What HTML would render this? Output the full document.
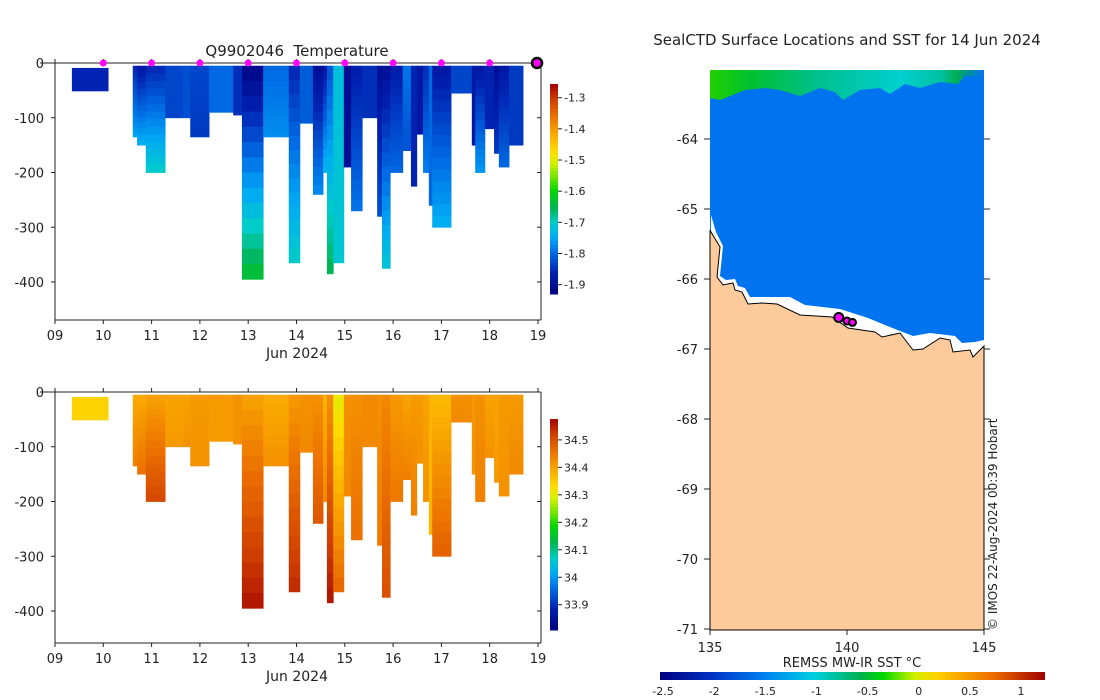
<!DOCTYPE html>
<html><head><meta charset="utf-8"><style>
body{margin:0;background:#fff;}
svg{display:block;font-family:"DejaVu Sans","Liberation Sans",sans-serif;}
text{fill:#222;}
</style></head><body>
<svg id="chart" width="1100" height="700" viewBox="0 0 1100 700" xmlns="http://www.w3.org/2000/svg">
<defs>
<linearGradient id="sstGrad" x1="0" x2="1" y1="0" y2="0">
<stop offset="0" stop-color="#00007f"/><stop offset="0.13" stop-color="#0030c0"/><stop offset="0.27" stop-color="#0080f0"/><stop offset="0.4" stop-color="#00d0e0"/><stop offset="0.52" stop-color="#00b050"/><stop offset="0.58" stop-color="#00d800"/><stop offset="0.66" stop-color="#d0f000"/><stop offset="0.72" stop-color="#ffd000"/><stop offset="0.86" stop-color="#f07000"/><stop offset="1" stop-color="#a00000"/>
</linearGradient>
<linearGradient id="greenBand" x1="0" x2="1" y1="0" y2="0">
<stop offset="0" stop-color="#20d000"/><stop offset="0.15" stop-color="#00c030"/><stop offset="0.4" stop-color="#00c090"/><stop offset="0.7" stop-color="#00d0d0"/><stop offset="0.85" stop-color="#00c0a0"/><stop offset="0.9" stop-color="#00b050"/><stop offset="1" stop-color="#0074ee"/>
</linearGradient>
</defs>
<g id="top"></g>
<g id="bot"></g>
<g id="map"></g>
</svg>
<script>
// Profile data
const startDay=[9.35,10.61,10.70,10.88,11.28,11.65,11.80,12.19,12.69,12.87,13.31,13.84,14.07,14.34,14.55,14.63,14.76,14.98,15.13,15.36,15.67,15.77,15.94,16.20,16.37,16.49,16.62,16.74,16.81,17.20,17.63,17.70,17.90,18.09,18.19,18.40];
const endDay=[10.10,10.70,10.88,11.28,11.65,11.80,12.19,12.69,12.87,13.31,13.84,14.07,14.34,14.55,14.63,14.76,14.98,15.13,15.36,15.67,15.77,15.94,16.20,16.37,16.49,16.62,16.74,16.81,17.20,17.63,17.70,17.90,18.09,18.19,18.40,18.69];
const topDepth=[9,5,5,5,5,5,5,5,5,5,5,5,5,5,5,5,5,5,5,5,5,5,5,5,5,5,5,5,5,5,5,5,5,5,5,5];
const maxDepth=[51,135,150,200,100,100,135,90,95,395,135,365,110,240,200,385,365,190,270,100,280,375,200,160,225,130,200,260,300,55,150,200,120,165,190,150];
const tempTop=[-1.86,-1.86,-1.88,-1.86,-1.83,-1.82,-1.83,-1.80,-1.85,-1.92,-1.80,-1.86,-1.81,-1.90,-1.88,-1.82,-1.72,-1.90,-1.87,-1.85,-1.90,-1.90,-1.87,-1.79,-1.86,-1.88,-1.85,-1.80,-1.88,-1.83,-1.88,-1.88,-1.86,-1.90,-1.88,-1.84];
const tempBot=[-1.86,-1.75,-1.74,-1.70,-1.83,-1.82,-1.84,-1.80,-1.85,-1.63,-1.77,-1.70,-1.81,-1.77,-1.73,-1.65,-1.71,-1.90,-1.79,-1.85,-1.82,-1.71,-1.80,-1.82,-1.86,-1.88,-1.78,-1.80,-1.74,-1.83,-1.88,-1.76,-1.86,-1.84,-1.80,-1.84];
const salTop=[34.34,34.39,34.39,34.40,34.40,34.40,34.41,34.41,34.42,34.40,34.39,34.41,34.42,34.42,34.38,34.42,34.30,34.42,34.42,34.43,34.42,34.43,34.41,34.40,34.41,34.41,34.40,34.38,34.37,34.42,34.41,34.42,34.40,34.40,34.41,34.41];
const salBot=[34.34,34.44,34.46,34.51,34.41,34.42,34.42,34.41,34.42,34.56,34.42,34.54,34.43,34.49,34.43,34.56,34.47,34.43,34.46,34.43,34.45,34.50,34.45,34.44,34.44,34.42,34.42,34.38,34.48,34.43,34.42,34.44,34.42,34.41,34.42,34.43];
const dayTicks=["09","10","11","12","13","14","15","16","17","18","19"];
const depthTicks=[0,-100,-200,-300,-400];
const tempCbTicks=[-1.3,-1.4,-1.5,-1.6,-1.7,-1.8,-1.9];
const salCbTicks=[34.5,34.4,34.3,34.2,34.1,34,33.9];
const markerDays=[10,11,12,13,14,15,16,17,18];
const sstTicks=[-2.5,-2,-1.5,-1,-0.5,0,0.5,1];
const lonTicks=[135,140,145];
const latTicks=[-64,-65,-66,-67,-68,-69,-70,-71];
const castLon=[139.7,140.0,140.2];
const castLat=[-66.55,-66.6,-66.62];

const NS="http://www.w3.org/2000/svg";
function el(p,t,a,txt){const e=document.createElementNS(NS,t);for(const k in a)e.setAttribute(k,a[k]);if(txt!==undefined)e.textContent=txt;p.appendChild(e);return e;}
const stops=[[0,[0,0,127]],[0.1,[0,32,176]],[0.2,[0,110,230]],[0.27,[0,170,245]],[0.34,[0,205,200]],[0.41,[0,180,80]],[0.49,[0,215,0]],[0.56,[120,230,0]],[0.63,[220,240,0]],[0.68,[255,220,0]],[0.76,[250,170,0]],[0.85,[235,110,0]],[0.93,[205,60,0]],[1,[160,0,0]]];
function cmap(f){f=Math.max(0,Math.min(1,f));for(let i=1;i<stops.length;i++){if(f<=stops[i][0]){const a=stops[i-1],b=stops[i];const t=(f-a[0])/(b[0]-a[0]);const c=a[1].map((v,j)=>Math.round(v+(b[1][j]-v)*t));return 'rgb('+c.join(',')+')';}}return 'rgb(160,0,0)';}
const xS=d=>55+(d-9)*48.3;

function panel(g,y0,yBot,vTop,vBot,vmin,vmax,cbTop,cbBot,cbTicks,kind){
  const yS=d=>y0+d*0.5475;
  for(let i=0;i<startDay.length;i++){
    const x1=xS(startDay[i]),x2=xS(endDay[i]);const n=14;
    const col=el(g,'g',{});
    
    
    for(let k=0;k<n;k++){
      const d1=topDepth[i]+(maxDepth[i]-topDepth[i])*k/n,d2=topDepth[i]+(maxDepth[i]-topDepth[i])*(k+1)/n;
      const v=vTop[i]+(vBot[i]-vTop[i])*(k+0.5)/n;
      el(col,'rect',{x:x1,y:yS(d1),width:x2-x1+0.4,height:yS(d2)-yS(d1)+0.4,fill:cmap((v-vmin)/(vmax-vmin))});
    }
  }
  const ax=el(g,'g',{stroke:'#222','stroke-width':1,fill:'none'});
  
  
  el(ax,'line',{x1:40,x2:541,y1:y0,y2:y0});
  el(ax,'line',{x1:55,x2:55,y1:y0,y2:yBot});
  el(ax,'line',{x1:541,x2:541,y1:y0,y2:yBot});
  el(ax,'line',{x1:55,x2:541,y1:yBot,y2:yBot});
  depthTicks.forEach(t=>{const y=yS(-t);el(ax,'line',{x1:51,x2:55,y1:y,y2:y});el(ax,'line',{x1:541,x2:537,y1:y,y2:y});
    const tx=el(g,'text',{x:44,y:y+5,'text-anchor':'end','font-size':13},String(t));
    
    });
  dayTicks.forEach((t,i)=>{const x=xS(9+i);el(ax,'line',{x1:x,x2:x,y1:y0,y2:y0-4});el(ax,'line',{x1:x,x2:x,y1:yBot,y2:yBot+4});
    const tx=el(g,'text',{x:x,y:yBot+20,'text-anchor':'middle','font-size':13},t);
    
    });
  const xl=el(g,'text',{x:297,y:yBot+38,'text-anchor':'middle','font-size':14},'Jun 2024');
  
  
  const cb=el(g,'g',{});
  
  
  const n=60;for(let k=0;k<n;k++){el(cb,'rect',{x:550,y:cbTop+(cbBot-cbTop)*k/n,width:8,height:(cbBot-cbTop)/n+0.5,fill:cmap(1-(k+0.5)/n)});}
  const per=(cbBot-cbTop)/(vmax-vmin);
  cbTicks.forEach(t=>{const y=cbTop+(vmax-t)*per;el(cb,'line',{x1:558,x2:562,y1:y,y2:y,stroke:'#222'});
    const tx=el(cb,'text',{x:564,y:y+4,'font-size':11},String(t));
    
    });
}
const topG=document.getElementById('top'),botG=document.getElementById('bot');
panel(topG,63,320,tempTop,tempBot,-1.93,-1.256,84,294,tempCbTicks,'temperature');
panel(botG,392,643,salTop,salBot,33.808,34.576,419,630,salCbTicks,'salinity');
const tt=el(topG,'text',{x:297,y:56,'text-anchor':'middle','font-size':15},'Q9902046\u00a0\u00a0Temperature');


markerDays.forEach(d=>{const c=el(topG,'circle',{cx:xS(d),cy:63,r:3.5,fill:'#ff00ff'});
  
  });
const lm=el(topG,'circle',{cx:xS(18.98),cy:63,r:5,fill:'#ff00ff',stroke:'#000','stroke-width':2.5});



const mapG=document.getElementById('map');
const lonS=l=>710+(l-135)*27.4, latS=l=>139+(-64-l)*70;
el(mapG,'rect',{x:710,y:70,width:274,height:560,fill:'#0074ee'});
el(mapG,'polygon',{fill:'url(#greenBand)',points:'710,70 983,70 983,76 965,76 958,84 940,82 920,88 905,84 890,94 880,88 860,90 843,100 835,92 820,88 800,96 780,90 765,88 745,90 730,96 720,100 710,98'});
el(mapG,'polygon',{fill:'#fff',points:'711,215 716,232 723,246 720,276 726,280 735,279 738,286 745,288 750,297 790,297 805,305 840,309 868,318 885,325 913,336 930,333 955,336 962,343 975,342 984,340 984,630 710,630'});
const land=el(mapG,'polygon',{fill:'#fdcb9b',stroke:'#000','stroke-width':1,points:'710,230 711,232 720,247 717,277 723,285 733,283 735,290 742,292 748,304 762,303 777,304 800,315 832,317 848,328 875,332 882,337 900,333 913,350 923,349 940,338 950,340 953,352 970,350 973,357 984,346 984,630 710,630'});


const mb=el(mapG,'g',{stroke:'#222',fill:'none'});
lonTicks.forEach(l=>{const x=lonS(l);el(mb,'line',{x1:x,x2:x,y1:630,y2:635});
  const t=el(mapG,'text',{x:x,y:652,'text-anchor':'middle','font-size':13},String(l));
  
  });
latTicks.forEach(l=>{const y=latS(l);el(mb,'line',{x1:704,x2:710,y1:y,y2:y});el(mb,'line',{x1:984,x2:990,y1:y,y2:y});
  const t=el(mapG,'text',{x:698,y:y+5,'text-anchor':'end','font-size':13},String(l));
  
  });
castLon.forEach((l,i)=>{const c=el(mapG,'circle',{cx:lonS(l),cy:latS(castLat[i]),r:i==0?4.5:3.5,fill:'#ff00ff',stroke:'#000','stroke-width':2});
  
  });
const mt=el(mapG,'text',{x:847,y:45,'text-anchor':'middle','font-size':15},'SealCTD Surface Locations and SST for 14 Jun 2024');


const cr=el(mapG,'text',{x:0,y:0,'font-size':12,transform:'translate(997,630) rotate(-90)'},'© IMOS 22-Aug-2024 00:39 Hobart');


const sb=el(mapG,'rect',{x:660,y:672,width:385,height:8,fill:'url(#sstGrad)'});


const sl=el(mapG,'text',{x:852,y:667,'text-anchor':'middle','font-size':13},'REMSS MW-IR SST °C');


sstTicks.forEach(v=>{const x=663+(v+2.5)*102.3;
  const t=el(mapG,'text',{x:x,y:695,'text-anchor':'middle','font-size':11},String(v));
  
  });
</script>
</body></html>
